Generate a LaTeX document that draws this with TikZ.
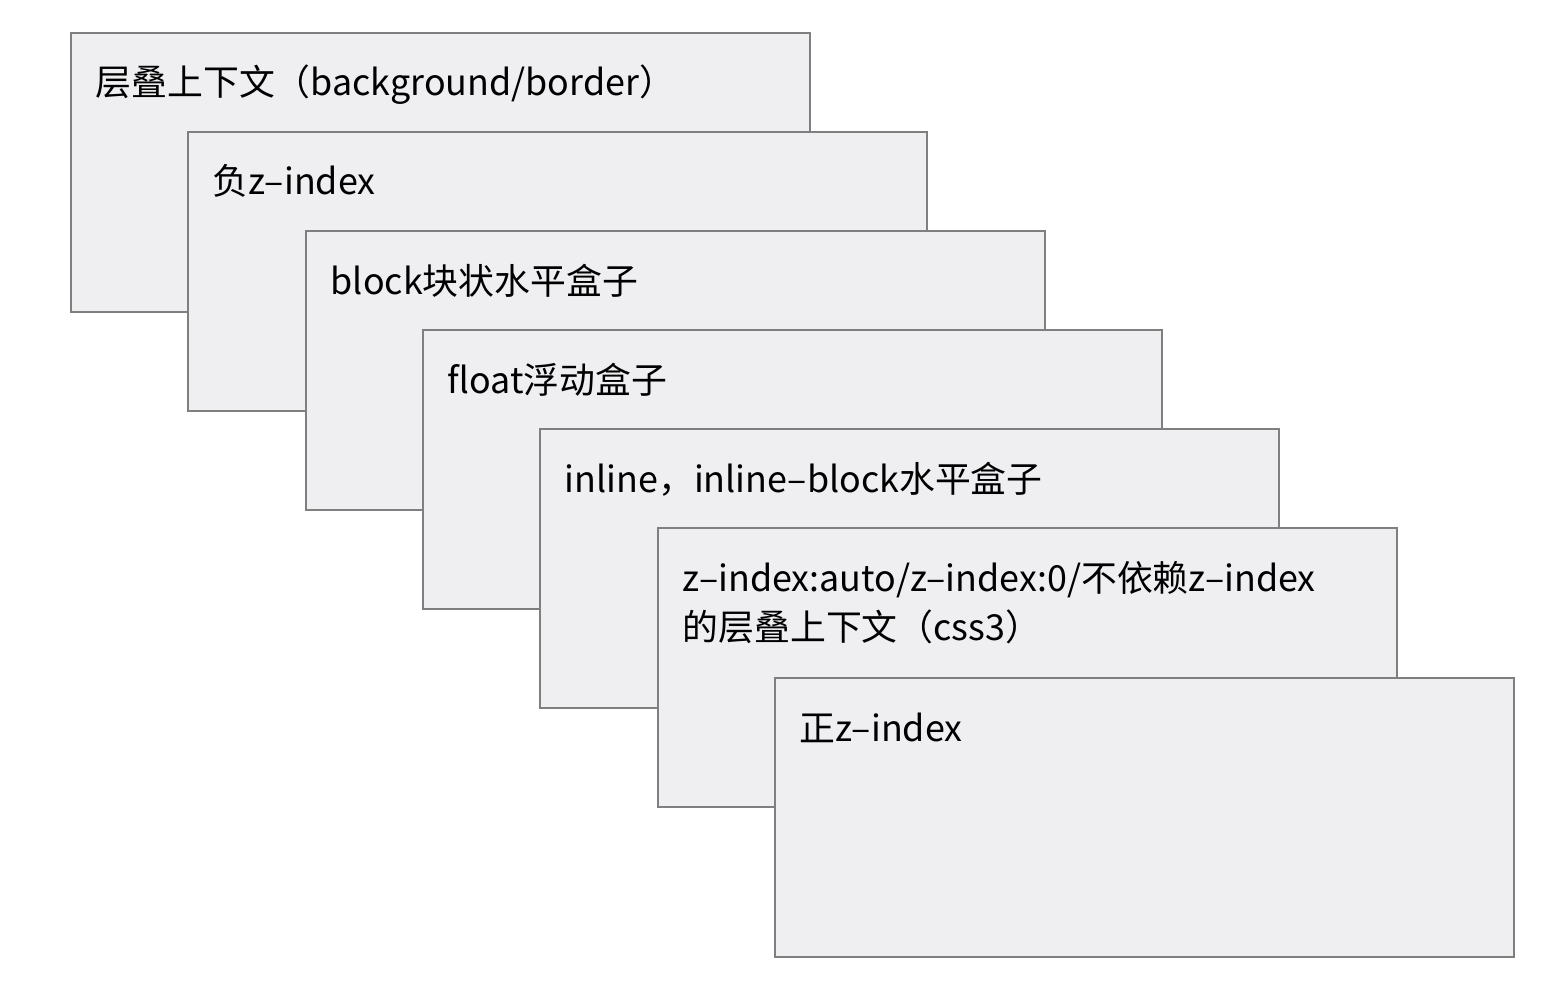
\documentclass[tikz,border=0pt]{standalone}
\usepackage{fontspec}
\setmainfont{Noto Sans CJK SC}
\usetikzlibrary{positioning}

\definecolor{boxfill}{HTML}{EFEEF1}
\definecolor{boxline}{HTML}{7F7F7F}

\begin{document}
\begin{tikzpicture}[
  layer/.style={draw=boxline, fill=boxfill, line width=0.6pt, rectangle,
    minimum width=7.39cm, minimum height=2.79cm, inner sep=0pt, anchor=north west},
  layertext/.style={anchor=base west, inner sep=0pt,
    font=\fontsize{10.2pt}{14.2pt}\selectfont}
]

% Fix the margins
\useasboundingbox (0,0) rectangle (15.68,-10.02);

% Two lines, baseline on the first one
\def \twolines#1#2{\begin{tabular}[t]{@{}l@{}}#1\\#2\end{tabular}}

% Draw the layers, back to front
\foreach \n/\x/\y/\t in {
  1/0.70/0.32/{层叠上下文（background/border）},
  2/1.87/1.31/{负z–index},
  3/3.05/2.30/{block块状水平盒子},
  4/4.22/3.29/{float浮动盒子},
  5/5.39/4.28/{inline，inline–block水平盒子},
  6/6.57/5.27/{\twolines{z–index:auto/z–index:0/不依赖z–index}{的层叠上下文（css3）}},
  7/7.74/6.77/{正z–index}}
{
  \node [layer] (box\n) at (\x,-\y) {};
  \node [layertext] (txt\n) at ([xshift=0.25cm, yshift=-0.64cm]box\n.north west) {\t};
}

\end{tikzpicture}
\end{document}
